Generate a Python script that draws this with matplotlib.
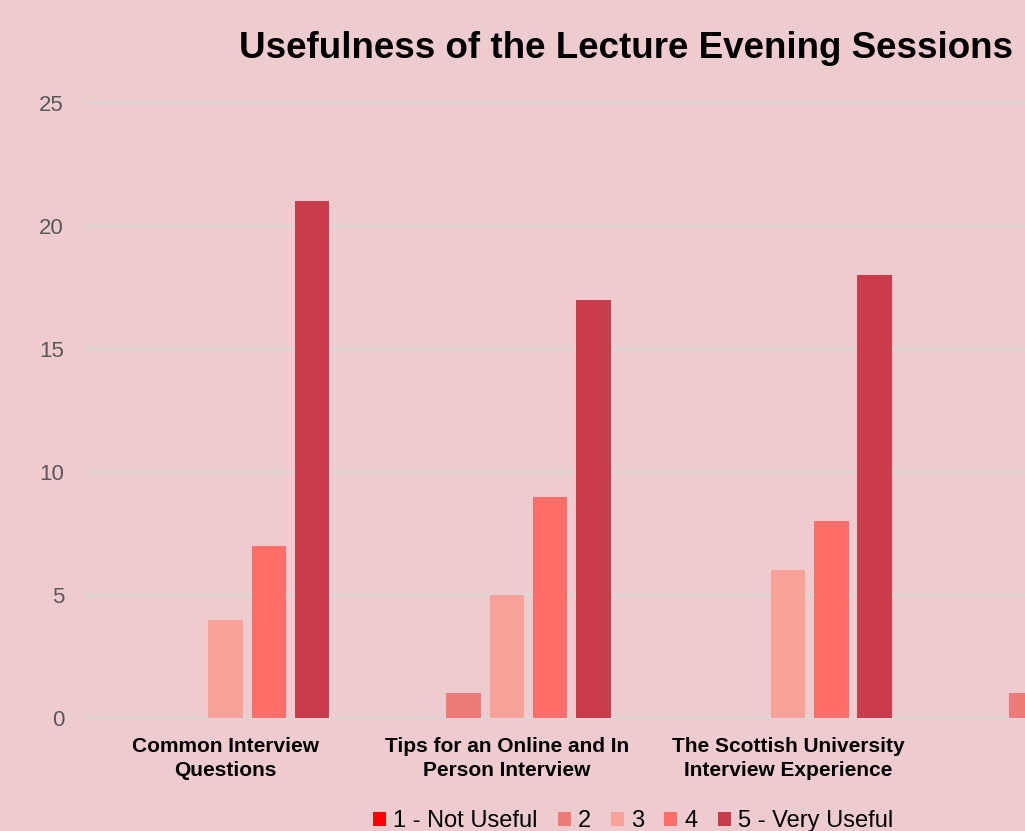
import numpy as np
import matplotlib
matplotlib.use("Agg")
import matplotlib.pyplot as plt
from matplotlib.patches import Patch

categories = ["Common Interview\nQuestions",
              "Tips for an Online and In\nPerson Interview",
              "The Scottish University\nInterview Experience",
              ""]
series_names = ["1 - Not Useful", "2", "3", "4", "5 - Very Useful"]
# rows = series, columns = categories (4th category only partly visible)
values = [
    [0, 0, 0, 0],
    [0, 1, 0, 1],
    [4, 5, 6, np.nan],
    [7, 9, 8, np.nan],
    [21, 17, 18, np.nan],
]
colors = ["#FF0000", "#EE7B77", "#F8A29A", "#FF6E68", "#C93C4B"]
yticks = [0, 5, 10, 15, 20, 25]

bg = "#EECBCF"
W, H = 1025, 831
fig = plt.figure(figsize=(W / 100, H / 100), dpi=100, facecolor=bg)
plt.rcParams['font.family'] = ['Liberation Sans', 'DejaVu Sans']

spacing = 281.25
left_px = 225.5 - spacing / 2
right_px = left_px + 4 * spacing
bottom_px, top_px = 718, 103
ax = fig.add_axes([left_px / W, (H - bottom_px) / H,
                   (right_px - left_px) / W, (bottom_px - top_px) / H])
ax.set_facecolor(bg)

x = np.arange(len(categories))
step = 43.3 / spacing
bw = 34.5 / spacing
for i, (name, vals, c) in enumerate(zip(series_names, values, colors)):
    ax.bar(x + (i - 2) * step, vals, width=bw, color=c, label=name, zorder=3)

ax.set_xlim(-0.5, 3.5)
ax.set_ylim(0, 25)
ax.set_yticks(yticks)
ax.set_yticklabels([str(t) for t in yticks], color="#595959", fontsize=16)
ax.yaxis.grid(True, color="#D9D9D9", linewidth=1.4, zorder=0)
for gl in ax.get_ygridlines():
    gl.set_clip_on(False)
ax.tick_params(axis='y', length=0, pad=15)
ax.set_xticks(x)
ax.set_xticklabels(categories, fontsize=15, fontweight='bold', color='black',
                   linespacing=1.3)
ax.tick_params(axis='x', length=0, pad=14)
for s in ax.spines.values():
    s.set_visible(False)

fig.text(626 / W, 1 - 49 / H, "Usefulness of the Lecture Evening Sessions",
         ha='center', va='center', fontsize=26.5, fontweight='bold')

handles = [Patch(facecolor=c, label=n) for n, c in zip(series_names, colors)]
fig.legend(handles=handles, loc='center', bbox_to_anchor=(633 / W, 1 - 821 / H),
           ncol=5, frameon=False, fontsize=17, handlelength=0.55, handleheight=0.55,
           handletextpad=0.3, columnspacing=0.85, borderaxespad=0)

fig.savefig("out.png", dpi=100, facecolor=bg)
